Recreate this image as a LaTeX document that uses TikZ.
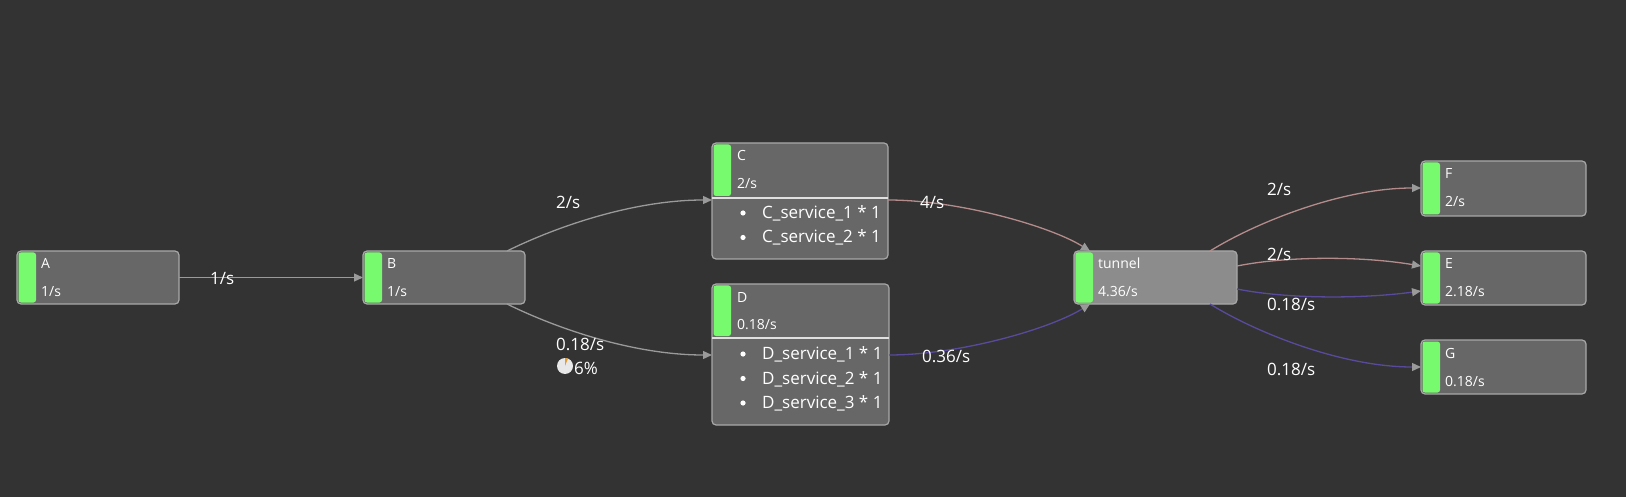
\documentclass[tikz,border=0pt]{standalone}
\usepackage{fontspec}
\setmainfont{Open Sans}
\usetikzlibrary{arrows.meta}
\definecolor{bg}{HTML}{333333}
\definecolor{boxfill}{HTML}{676767}
\definecolor{tunfill}{HTML}{8C8C8C}
\definecolor{boxborder}{HTML}{A8A8A8}
\definecolor{gbar}{HTML}{77FA6E}
\definecolor{edgegray}{HTML}{9A9A9A}
\definecolor{edgepink}{HTML}{B48C8C}
\definecolor{edgepurple}{HTML}{5A4A9C}
\definecolor{tipgray}{HTML}{9A9A9A}
\definecolor{pieorange}{HTML}{E89A2A}
\definecolor{piegray}{HTML}{E8E8E8}
\begin{document}
\begin{tikzpicture}[x=1pt,y=-1pt,
 box/.style={draw=boxborder,line width=1.2pt,fill=boxfill,rounded corners=4pt,anchor=north west,inner sep=0pt,outer sep=0pt,minimum width=162pt,minimum height=53pt},
 ntext/.style={text=white,font=\fontsize{14}{16}\selectfont,anchor=base west,inner sep=0pt},
 ltext/.style={text=white,font=\fontsize{17}{20}\selectfont,anchor=base west,inner sep=0pt},
 bar/.style={fill=gbar,rounded corners=2.5pt},
 divider/.style={draw=white!88!black,line width=1.2pt},
 bullet/.style={fill=white},
 flow/.style={line width=1.3pt,-{Triangle[length=9pt,width=8pt,color=tipgray]}},
]
\fill[bg] (0,0) rectangle (1626,497);
\useasboundingbox (0,0) rectangle (1626,497);

% ---------- simple nodes
\node[box] (A) at (17,251) {};
\fill[bar] ([shift={(1.5,1.5)}]A.north west) rectangle ([shift={(19,-1.5)}]A.south west);
\node[ntext] (At) at ([shift={(24,18)}]A.north west) {A};
\node[ntext] (Ar) at ([shift={(24,46)}]A.north west) {1/s};

\node[box] (B) at (363,251) {};
\fill[bar] ([shift={(1.5,1.5)}]B.north west) rectangle ([shift={(19,-1.5)}]B.south west);
\node[ntext] (Bt) at ([shift={(24,18)}]B.north west) {B};
\node[ntext] (Br) at ([shift={(24,46)}]B.north west) {1/s};

\node[box,fill=tunfill,minimum width=163pt] (T) at (1074,251) {};
\fill[bar] ([shift={(1.5,1.5)}]T.north west) rectangle ([shift={(19,-1.5)}]T.south west);
\node[ntext] (Tt) at ([shift={(24,18)}]T.north west) {tunnel};
\node[ntext] (Tr) at ([shift={(24,46)}]T.north west) {4.36/s};

\node[box,minimum width=165pt,minimum height=55pt] (F) at (1421,161) {};
\fill[bar] ([shift={(1.5,1.5)}]F.north west) rectangle ([shift={(19,-1.5)}]F.south west);
\node[ntext] (Ft) at ([shift={(24,18)}]F.north west) {F};
\node[ntext] (Fr) at ([shift={(24,46)}]F.north west) {2/s};

\node[box,minimum width=165pt,minimum height=54pt] (E) at (1421,251) {};
\fill[bar] ([shift={(1.5,1.5)}]E.north west) rectangle ([shift={(19,-1.5)}]E.south west);
\node[ntext] (Et) at ([shift={(24,18)}]E.north west) {E};
\node[ntext] (Er) at ([shift={(24,46)}]E.north west) {2.18/s};

\node[box,minimum width=165pt,minimum height=54pt] (G) at (1421,340) {};
\fill[bar] ([shift={(1.5,1.5)}]G.north west) rectangle ([shift={(19,-1.5)}]G.south west);
\node[ntext] (Gt) at ([shift={(24,18)}]G.north west) {G};
\node[ntext] (Gr) at ([shift={(24,46)}]G.north west) {0.18/s};

% ---------- C with list
\node[box,minimum width=176pt,minimum height=116pt] (C) at (712,143) {};
\fill[bar] ([shift={(1.5,1.5)}]C.north west) rectangle ([shift={(19,53)}]C.north west);
\draw[divider] ([shift={(0,55)}]C.north west) -- ([shift={(0,55)}]C.north east);
\node[ntext] (Ct) at ([shift={(25,18)}]C.north west) {C};
\node[ntext] (Cr) at ([shift={(25,46)}]C.north west) {2/s};
\fill[bullet] ([shift={(31,70)}]C.north west) circle (2.6pt);
\fill[bullet] ([shift={(31,94.5)}]C.north west) circle (2.6pt);
\node[ltext] (C1) at ([shift={(50,75.5)}]C.north west) {C\_service\_1 * 1};
\node[ltext] (C2) at ([shift={(50,100)}]C.north west) {C\_service\_2 * 1};

% ---------- D with list
\node[box,minimum width=177pt,minimum height=141pt] (D) at (712,284) {};
\fill[bar] ([shift={(1.5,1.5)}]D.north west) rectangle ([shift={(19,52)}]D.north west);
\draw[divider] ([shift={(0,54)}]D.north west) -- ([shift={(0,54)}]D.north east);
\node[ntext] (Dt) at ([shift={(25,18)}]D.north west) {D};
\node[ntext] (Dr) at ([shift={(25,46)}]D.north west) {0.18/s};
\fill[bullet] ([shift={(31,70)}]D.north west) circle (2.6pt);
\fill[bullet] ([shift={(31,94.5)}]D.north west) circle (2.6pt);
\fill[bullet] ([shift={(31,119)}]D.north west) circle (2.6pt);
\node[ltext] (D1) at ([shift={(50,75.5)}]D.north west) {D\_service\_1 * 1};
\node[ltext] (D2) at ([shift={(50,100)}]D.north west) {D\_service\_2 * 1};
\node[ltext] (D3) at ([shift={(50,124.5)}]D.north west) {D\_service\_3 * 1};

% ---------- connectors
\draw[flow,edgegray] (A.east) -- (B.west);
\draw[flow,edgegray] ([xshift=-18]B.north east) .. controls +(55,-27) and +(-75,0) .. ([shift={(0,57)}]C.north west);
\draw[flow,edgegray] ([xshift=-18]B.south east) .. controls +(55,27) and +(-75,0) .. ([shift={(0,71)}]D.north west);
\draw[flow,edgepink] ([shift={(0,57)}]C.north east) .. controls +(70,0) and +(-40,-25) .. ([xshift=16]T.north west);
\draw[flow,edgepurple] ([shift={(0,71)}]D.north east) .. controls +(70,0) and +(-40,25) .. ([xshift=16]T.south west);
\draw[flow,edgepink] ([xshift=-27]T.north east) .. controls +(45,-28) and +(-80,0) .. ([shift={(0,27)}]F.north west);
\draw[flow,edgepink] ([shift={(0,15)}]T.north east) .. controls +(50,-10) and +(-60,-10) .. ([shift={(0,15)}]E.north west);
\draw[flow,edgepurple] ([shift={(0,38)}]T.north east) .. controls +(50,10) and +(-60,8) .. ([shift={(0,40)}]E.north west);
\draw[flow,edgepurple] ([xshift=-27]T.south east) .. controls +(45,28) and +(-80,0) .. ([shift={(0,27)}]G.north west);

% ---------- edge labels
\node[ltext] (lab) at (210,285) {1/s};
\node[ltext] (lbc) at (556,209) {2/s};
\node[ltext] (lbd) at (556,350) {0.18/s};
\node[circle,fill=piegray,minimum size=16pt,inner sep=0pt] (pie) at (565,366) {};
\fill[pieorange] (pie.center) -- ++(270:8) arc[start angle=270,end angle=291.6,radius=8] -- cycle;
\node[ltext] (lpct) at (574,374) {6\%};
\node[ltext] (lct) at (920,209) {4/s};
\node[ltext] (ldt) at (922,362) {0.36/s};
\node[ltext] (ltf) at (1267,196) {2/s};
\node[ltext] (lte1) at (1267,261) {2/s};
\node[ltext] (lte2) at (1267,310) {0.18/s};
\node[ltext] (ltg) at (1267,375) {0.18/s};
\end{tikzpicture}
\end{document}
